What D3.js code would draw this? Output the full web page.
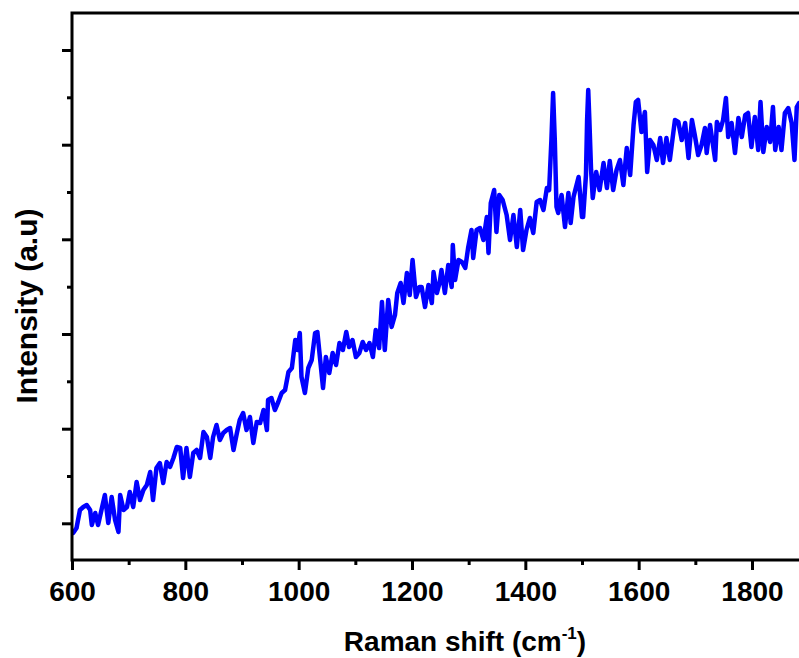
<!DOCTYPE html>
<html><head><meta charset="utf-8">
<script src="https://cdn.jsdelivr.net/npm/d3@7/dist/d3.min.js"></script>
<style>body{margin:0;background:#fff;overflow:hidden}</style>
</head><body>
<svg id="c" width="799" height="658"></svg>
<script>
// Raman shift (cm-1)
const wavenumber = [602,608,614,620,626,632,635,641,646,652,658,664,670,676,682,685,691,697,702,708,714,720,726,732,738,743,749,755,761,767,773,779,785,791,796,802,808,814,820,826,832,838,844,849,855,861,867,873,879,885,891,896,902,908,914,920,926,932,938,944,946,952,958,964,970,976,982,988,994,998,1002,1005,1011,1017,1023,1029,1033,1038,1043,1048,1054,1060,1066,1072,1078,1084,1089,1095,1101,1107,1113,1119,1125,1131,1136,1142,1147,1152,1158,1164,1170,1174,1180,1185,1191,1196,1201,1207,1213,1217,1223,1229,1235,1238,1244,1249,1252,1258,1264,1270,1272,1276,1282,1288,1294,1299,1305,1308,1314,1320,1326,1332,1335,1339,1345,1349,1354,1360,1367,1373,1379,1385,1391,1396,1402,1408,1414,1420,1426,1432,1438,1442,1446,1449,1452,1455,1458,1464,1470,1476,1480,1485,1494,1500,1502,1507,1509,1511,1513,1516,1519,1525,1531,1538,1544,1549,1555,1561,1567,1573,1579,1585,1591,1595,1599,1605,1611,1615,1620,1626,1632,1638,1643,1649,1655,1664,1670,1676,1682,1688,1694,1699,1705,1711,1717,1720,1726,1735,1738,1744,1749,1754,1758,1764,1770,1776,1782,1788,1793,1799,1805,1811,1815,1820,1826,1832,1837,1841,1847,1852,1858,1864,1870,1875,1879,1883];
// Intensity (a.u.)
const intensity = [27,32,50,53,55,50,35,47,35,50,65,37,63,40,28,65,50,53,68,53,78,60,70,75,88,60,92,97,77,98,93,102,113,112,82,112,83,107,110,102,128,123,102,123,135,120,127,130,132,110,127,140,147,130,143,117,138,137,150,130,160,162,150,158,167,170,188,192,220,210,227,183,167,192,200,227,228,200,172,203,187,207,195,217,210,228,213,220,203,207,218,210,217,203,230,212,258,210,260,233,245,267,277,257,287,265,300,263,273,273,253,275,257,288,267,278,290,267,295,273,315,280,300,298,292,312,330,302,330,332,320,343,307,357,370,328,365,360,345,320,345,313,350,310,330,342,327,358,360,350,372,370,420,467,420,353,347,365,333,367,337,363,383,343,343,385,440,470,440,390,362,388,370,397,372,399,370,390,400,375,412,385,435,458,460,428,448,388,420,415,400,422,397,422,400,440,438,420,437,402,440,425,405,415,432,407,435,400,438,430,440,462,423,437,407,442,423,445,447,413,443,410,458,408,433,418,453,410,433,410,447,452,437,400,453,457];

const xMajorTicks = [600,800,1000,1200,1400,1600,1800];
const xMinorTicks = [700,900,1100,1300,1500,1700];
const yMajorTicks = [36.7,131.3,226,320.7,415.3,510];
const yMinorTicks = [84,178.7,273.3,368,462.7];
const xDomain = [600, 1890];
const yDomain = [0, 547];

const svg = d3.select("#c");
const L = 72, T = 13, R = 803, B = 560;
const x = d3.scaleLinear().domain(xDomain).range([L, R]);
const y = d3.scaleLinear().domain(yDomain).range([B, T]);
const font = "'Liberation Sans', Arial, sans-serif";

svg.append("defs").append("clipPath").attr("id","clip")
  .append("rect").attr("x",L).attr("y",T).attr("width",R-L).attr("height",B-T);

const data = wavenumber.map((w,i)=>[w,intensity[i]]);
svg.append("path").datum(data)
  .attr("clip-path","url(#clip)")
  .attr("fill","none").attr("stroke","#0000ff").attr("stroke-width",4.5)
  .attr("stroke-linejoin","round").attr("stroke-linecap","round")
  .attr("d", d3.line().x(d=>x(d[0])).y(d=>y(d[1])));

function styleAxis(g){
  g.select(".domain").remove();
  g.selectAll(".tick line").attr("stroke","#000").attr("stroke-width",3);
}
// x axis
svg.append("g").attr("transform",`translate(0,${B})`)
  .call(d3.axisBottom(x).tickValues(xMajorTicks).tickSize(10).tickPadding(11).tickFormat(d3.format("d")))
  .call(styleAxis)
  .call(g=>g.selectAll("text").attr("font-family",font).attr("font-weight","bold").attr("font-size",28).attr("fill","#000"));
svg.append("g").attr("transform",`translate(0,${B})`)
  .call(d3.axisBottom(x).tickValues(xMinorTicks).tickSize(5).tickFormat(""))
  .call(styleAxis);
// y axis
svg.append("g").attr("transform",`translate(${L},0)`)
  .call(d3.axisLeft(y).tickValues(yMajorTicks).tickSize(10).tickFormat(""))
  .call(styleAxis);
svg.append("g").attr("transform",`translate(${L},0)`)
  .call(d3.axisLeft(y).tickValues(yMinorTicks).tickSize(5).tickFormat(""))
  .call(styleAxis);

// frame
svg.append("rect").attr("x",L).attr("y",T).attr("width",R-L).attr("height",B-T)
  .attr("fill","none").attr("stroke","#000").attr("stroke-width",3);

// axis titles
const xt = svg.append("text").attr("x",465).attr("y",651)
  .attr("text-anchor","middle").attr("font-family",font).attr("font-weight","bold").attr("font-size",28).attr("fill","#000");
xt.append("tspan").text("Raman shift (cm");
xt.append("tspan").attr("font-size",17).attr("dy",-12).text("-1");
xt.append("tspan").attr("dy",12).text(")");

svg.append("text").attr("transform",`translate(37,306) rotate(-90)`)
  .attr("text-anchor","middle").attr("font-family",font).attr("font-weight","bold").attr("font-size",30).attr("fill","#000")
  .text("Intensity (a.u)");
</script>
</body></html>
